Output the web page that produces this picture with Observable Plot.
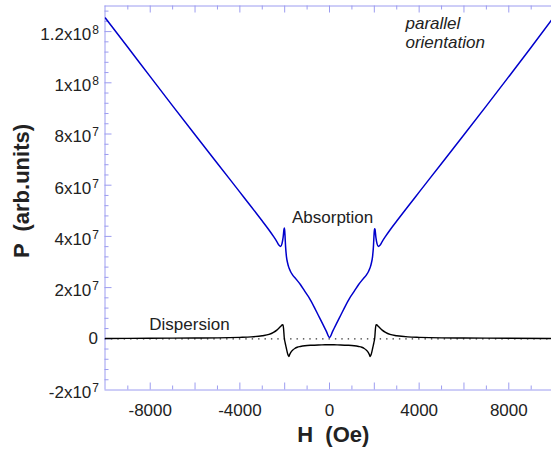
<!DOCTYPE html>
<html>
<head>
<meta charset="utf-8">
<script src="https://cdn.jsdelivr.net/npm/d3@7"></script>
<script src="https://cdn.jsdelivr.net/npm/@observablehq/plot@0.6"></script>
<style>
  html, body { margin: 0; padding: 0; background: #fff; overflow: hidden; }
</style>
</head>
<body>
<div id="chart"></div>
<script>
// ---- data (P in units of 1e6 arb. units, H in Oe) ----
const absH = [-10000,-9000,-8000,-7000,-6000,-5000,-4000,-3500,-3000,-2700,-2500,-2350,-2250,-2180,-2120,-2070,-2030,-2010,-1990,-1960,-1920,-1870,-1820,-1750,-1650,-1500,-1300,-1100,-900,-700,-500,-300,-150,0,
  150,300,500,700,900,1100,1300,1500,1650,1750,1820,1870,1920,1960,1990,2010,2030,2070,2120,2180,2250,2350,2500,2700,3000,3500,4000,5000,6000,7000,8000,9000,10000];
const absP = [125.3,113.9,102.4,91.0,79.7,68.5,57.3,51.7,46.0,42.5,40.0,38.0,36.5,36.1,37.2,39.6,42.8,43.3,41.0,36.0,32.0,29.6,28.0,26.5,25.0,23.4,21.2,18.5,15.9,12.7,9.2,5.7,3.1,0.5,
  3.1,5.7,9.2,12.7,15.9,18.5,21.2,23.4,25.0,26.5,28.0,29.6,32.0,36.0,41.0,43.0,42.8,39.6,37.2,36.1,36.5,38.0,40.0,42.5,46.0,51.7,57.3,68.5,79.7,91.0,102.4,113.9,125.6];

const dispH = [-10000,-8000,-6000,-5000,-4000,-3500,-3000,-2700,-2500,-2350,-2250,-2170,-2110,-2080,-2050,-2020,-1980,-1930,-1870,-1816,-1780,-1720,-1650,-1550,-1440,-1300,-1100,-800,-500,-200,0,
  200,500,800,1100,1300,1440,1550,1650,1720,1780,1816,1870,1930,1980,2020,2050,2080,2110,2170,2250,2350,2500,2700,3000,3500,4000,5000,6000,8000,10000];
const dispP = [0.1,0.2,0.3,0.35,0.55,0.75,1.2,1.7,2.5,3.4,4.2,4.9,5.4,5.5,4.0,0.5,-1.5,-3.5,-5.8,-6.9,-6.2,-5.2,-4.5,-3.8,-3.3,-3.0,-2.7,-2.5,-2.4,-2.35,-2.3,
  -2.35,-2.4,-2.5,-2.7,-3.0,-3.3,-3.8,-4.5,-5.2,-6.2,-6.9,-5.8,-3.5,-1.5,0.5,4.0,5.5,5.4,4.9,4.2,3.4,2.5,1.7,1.2,0.75,0.55,0.35,0.3,0.2,0.1];

const xLabelTicks = [-8000, -4000, 0, 4000, 8000];
const xMajorTicks = [-8000, -6000, -4000, -2000, 0, 2000, 4000, 6000, 8000];
const xMinorTicks = [-9000, -7000, -5000, -3000, -1000, 1000, 3000, 5000, 7000, 9000];
const yLabelTicks = [-20, 0, 20, 40, 60, 80, 100, 120];
const yLabelTexts = ["-2x10^7", "0", "2x10^7", "4x10^7", "6x10^7", "8x10^7", "1x10^8", "1.2x10^8"];
const yMinorTicks = [-16,-12,-8,-4,4,8,12,16,24,28,32,36,44,48,52,56,64,68,72,76,84,88,92,96,104,108,112,116,124,128];

const xDomain = [-10018, 9906];
const yDomain = [-20, 130];

// ---- build tables ----
const absorption = absH.map((h, i) => ({H: h, P: absP[i]}));
const dispersion = dispH.map((h, i) => ({H: h, P: dispP[i]}));

const W = 551, Ht = 451;
const mL = 104.5, mR = 0, mT = 5.5, mB = 61.5;
const plotW = W - mL - mR, plotH = Ht - mT - mB;
const axisColor = "#9c9cf0";
const textColor = "#222";
const majLen = 7, minLen = 4;

const labelFor = d => yLabelTexts[yLabelTicks.indexOf(d)];

const chart = Plot.plot({
  width: W, height: Ht,
  marginLeft: mL, marginRight: mR, marginTop: mT, marginBottom: mB,
  x: {domain: xDomain},
  y: {domain: yDomain},
  style: {fontFamily: "'Liberation Sans', Arial, Helvetica, sans-serif", fontSize: "17px", background: "#fff", color: textColor},
  marks: [
    // zero reference (dotted)
    Plot.ruleY([0], {stroke: "#333", strokeWidth: 1.2, strokeDasharray: "1.4 5"}),
    // frame
    Plot.ruleY([yDomain[0], yDomain[1]], {stroke: axisColor, strokeWidth: 1}),
    Plot.ruleX([xDomain[0]], {stroke: axisColor, strokeWidth: 1}),
    // bottom ticks
    Plot.ruleX(xMajorTicks, {stroke: axisColor, insetTop: plotH - majLen}),
    Plot.ruleX(xMinorTicks, {stroke: axisColor, insetTop: plotH - minLen}),
    // top ticks
    Plot.ruleX(xMajorTicks, {stroke: axisColor, insetBottom: plotH - majLen}),
    Plot.ruleX(xMinorTicks, {stroke: axisColor, insetBottom: plotH - minLen}),
    // left ticks
    Plot.ruleY(yLabelTicks.filter(d => d > yDomain[0]), {stroke: axisColor, insetRight: plotW - majLen}),
    Plot.ruleY(yMinorTicks, {stroke: axisColor, insetRight: plotW - minLen}),
    // axes labels
    Plot.axisX({ticks: xLabelTicks, tickSize: 0, tickPadding: 14, tickFormat: d => String(d), fill: textColor, label: null}),
    Plot.axisY({ticks: yLabelTicks.filter(d => d === 0), tickSize: 0, tickPadding: 7, tickFormat: labelFor, fill: textColor, label: null}),
    Plot.axisY({ticks: yLabelTicks.filter(d => d !== 0), tickSize: 0, tickPadding: 6, tickFormat: labelFor, fill: textColor, dy: 3, label: null}),
    // curves
    Plot.line(dispersion, {x: "H", y: "P", stroke: "#000", strokeWidth: 1.4, curve: "monotone-x", clip: true}),
    Plot.line(absorption, {x: "H", y: "P", stroke: "#0000cc", strokeWidth: 1.5, curve: "monotone-x", clip: true}),
    // annotations
    Plot.text(["Absorption"], {x: 140, y: 47.3, text: d => d, fill: textColor, fontSize: 17}),
    Plot.text(["Dispersion"], {x: -6250, y: 5.6, text: d => d, fill: textColor, fontSize: 17}),
    Plot.text(["parallel\norientation"], {x: 3390, y: 126.4, text: d => d, textAnchor: "start", lineAnchor: "top", lineHeight: 1.14, fontStyle: "italic", fill: textColor, fontSize: 17}),
    // axis titles
    Plot.text(["H \u00a0(Oe)"], {frameAnchor: "bottom", text: d => d, textAnchor: "middle", lineAnchor: "top", dx: 5, dy: 36.6, fontWeight: "bold", fontSize: 22, fill: textColor}),
    Plot.text(["P \u00a0(arb.units)"], {frameAnchor: "left", text: d => d, textAnchor: "middle", lineAnchor: "middle", rotate: -90, dx: 21.3 - mL, dy: -7, fontWeight: "bold", fontSize: 22, fill: textColor})
  ]
});

// superscripts for exponent tick labels
chart.querySelectorAll("text").forEach(t => {
  const s = t.textContent;
  if (s.includes("^")) {
    const [base, exp] = s.split("^");
    t.textContent = base;
    const ts = document.createElementNS("http://www.w3.org/2000/svg", "tspan");
    ts.setAttribute("dy", "-0.5em");
    ts.setAttribute("dx", "1");
    ts.setAttribute("font-size", "12");
    ts.textContent = exp;
    t.appendChild(ts);
  }
});

document.getElementById("chart").appendChild(chart);
</script>
</body>
</html>
